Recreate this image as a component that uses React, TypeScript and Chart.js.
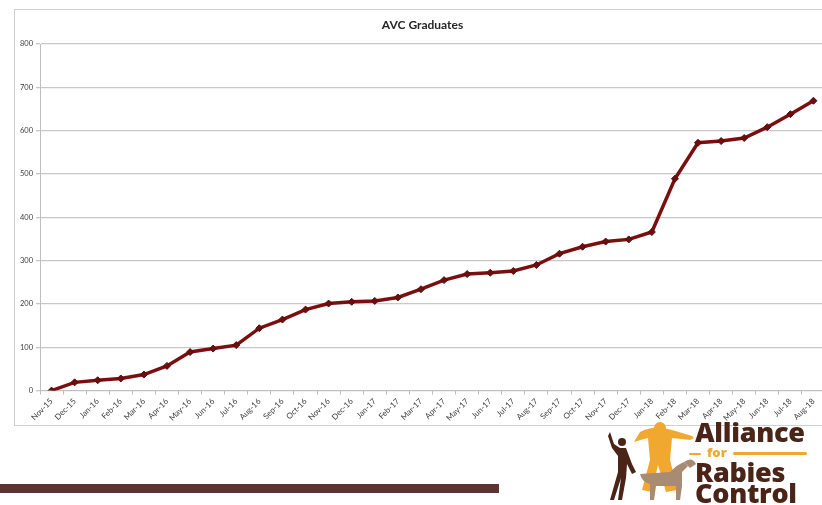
import React, { useEffect, useRef } from "react";
import { Chart, registerables } from "chart.js";

Chart.register(...registerables);

const TITLE = "AVC Graduates";
const months = [
  "Nov-15", "Dec-15", "Jan-16", "Feb-16", "Mar-16", "Apr-16", "May-16", "Jun-16", "Jul-16",
  "Aug-16", "Sep-16", "Oct-16", "Nov-16", "Dec-16", "Jan-17", "Feb-17", "Mar-17", "Apr-17",
  "May-17", "Jun-17", "Jul-17", "Aug-17", "Sep-17", "Oct-17", "Nov-17", "Dec-17", "Jan-18",
  "Feb-18", "Mar-18", "Apr-18", "May-18", "Jun-18", "Jul-18", "Aug-18",
];
const graduates = [
  0, 19, 24, 28, 37, 57, 89, 97, 105, 144, 164, 187, 201, 205, 207, 215, 234, 255,
  269, 272, 276, 290, 316, 332, 344, 349, 366, 489, 572, 576, 583, 608, 638, 669,
];
const Y_MIN = 0;
const Y_MAX = 800;
const Y_STEP = 100;

const FONT = "Lato, 'Open Sans', 'DejaVu Sans', sans-serif";

function Logo() {
  return (
    <div style={{ position: "absolute", left: 600, top: 420, width: 222, height: 85 }}>
      <svg width="100" height="85" style={{ position: "absolute", left: 0, top: 0 }}>
        <path d="M40 12 Q55 4 72 10 L92 16 Q96 18 90 20 L72 18 L70 40 L78 70 L66 72 L58 45 L52 72 L42 70 L50 40 L48 18 Q40 20 34 22 Z" fill="#f0a830" />
        <circle cx="60" cy="8" r="6" fill="#f0a830" />
        <circle cx="22" cy="22" r="4" fill="#4a2417" />
        <path d="M8 16 L10 12 L14 24 L20 28 L26 28 L32 44 L36 52 L32 54 L27 44 L26 58 L22 80 L18 80 L21 58 L14 80 L10 80 L18 52 L18 36 L12 28 Z" fill="#4a2417" />
        <path d="M40 54 L70 52 Q78 44 84 42 L88 46 L82 52 L82 66 L80 80 L76 80 L76 66 L56 66 L54 80 L50 80 L50 64 Q42 62 40 54 Z" fill="#a98a72" />
        <path d="M84 42 Q92 36 96 44 L90 48 Z" fill="#a98a72" />
      </svg>
      <div style={{ position: "absolute", left: 95, top: 0, fontFamily: "'Open Sans', Lato, sans-serif", fontWeight: 800, color: "#4a2417", lineHeight: 1 }}>
        <div style={{ fontSize: 27, letterSpacing: -0.3, position: "absolute", left: 0, top: -2, whiteSpace: "nowrap" }}>Alliance</div>
        <div style={{ position: "absolute", left: 0, top: 33, width: 110, height: 3 }}>
          <div style={{ position: "absolute", left: -6, top: 0, width: 12, height: 2, background: "#f0a830", borderRadius: 2 }} />
          <div style={{ position: "absolute", left: 38, top: -1, width: 74, height: 3, background: "#f0a830", borderRadius: 2 }} />
        </div>
        <div style={{ fontSize: 13, color: "#f0a830", position: "absolute", left: 12, top: 26, whiteSpace: "nowrap" }}>for</div>
        <div style={{ fontSize: 27, letterSpacing: -0.3, position: "absolute", left: 0, top: 38, whiteSpace: "nowrap" }}>Rabies</div>
        <div style={{ fontSize: 27, letterSpacing: -0.3, position: "absolute", left: 0, top: 59, whiteSpace: "nowrap" }}>Control</div>
      </div>
    </div>
  );
}

export default function App() {
  const ref = useRef<HTMLCanvasElement>(null);

  useEffect(() => {
    const canvas = ref.current;
    if (!canvas) return;
    const chart = new Chart(canvas, {
      type: "line",
      data: {
        labels: months,
        datasets: [
          {
            label: "AVC Graduates",
            data: graduates,
            borderColor: "#7a0f0f",
            backgroundColor: "#7a0f0f",
            borderWidth: 3.5,
            pointStyle: "rectRot",
            pointRadius: 3.5,
            pointBackgroundColor: "#6e0d0d",
            pointBorderColor: "#5a0a0a",
            pointBorderWidth: 1,
            tension: 0,
            fill: false,
          },
        ],
      },
      options: {
        responsive: false,
        animation: false,
        layout: { padding: 0 },
        plugins: {
          legend: { display: false },
          tooltip: { enabled: false },
          title: {
            display: true,
            text: TITLE,
            color: "#262626",
            font: { family: FONT, size: 12, weight: "bold" },
            padding: { top: 8, bottom: 11.6 },
          },
        },
        scales: {
          x: {
            type: "category",
            offset: true,
            grid: {
              display: true,
              offset: true,
              drawOnChartArea: false,
              drawTicks: true,
              tickLength: 4,
              color: "#bfbfbf",
            },
            border: { display: true, color: "#bfbfbf", width: 1 },
            ticks: {
              autoSkip: false,
              minRotation: 45,
              maxRotation: 45,
              color: "#404040",
              padding: 2,
              font: { family: FONT, size: 8 },
            },
            afterFit: (scale: any) => {
              scale.height = 34.4;
            },
          },
          y: {
            min: Y_MIN,
            max: Y_MAX,
            ticks: {
              stepSize: Y_STEP,
              color: "#404040",
              padding: 3,
              font: { family: FONT, size: 7.5 },
            },
            grid: {
              color: "#c8c8c8",
              lineWidth: 1.3,
              drawTicks: true,
              tickLength: 4,
            },
            border: { display: true, color: "#bfbfbf", width: 1 },
            afterFit: (scale: any) => {
              scale.width = 25;
            },
          },
        },
      },
    });
    return () => chart.destroy();
  }, []);

  return (
    <div style={{ position: "absolute", left: 0, top: 0, width: 822, height: 505, background: "#ffffff", overflow: "hidden" }}>
      <div
        style={{
          position: "absolute",
          left: 14,
          top: 9,
          width: 816,
          height: 417,
          borderLeft: "1px solid #d0d0d0",
          borderTop: "1px solid #d0d0d0",
          borderBottom: "1px solid #d0d0d0",
          boxSizing: "border-box",
        }}
      >
        <canvas ref={ref} width={815} height={415} style={{ display: "block" }} />
      </div>
      <div style={{ position: "absolute", left: 0, top: 484, width: 499, height: 9, background: "#5c3430" }} />
      <Logo />
    </div>
  );
}
